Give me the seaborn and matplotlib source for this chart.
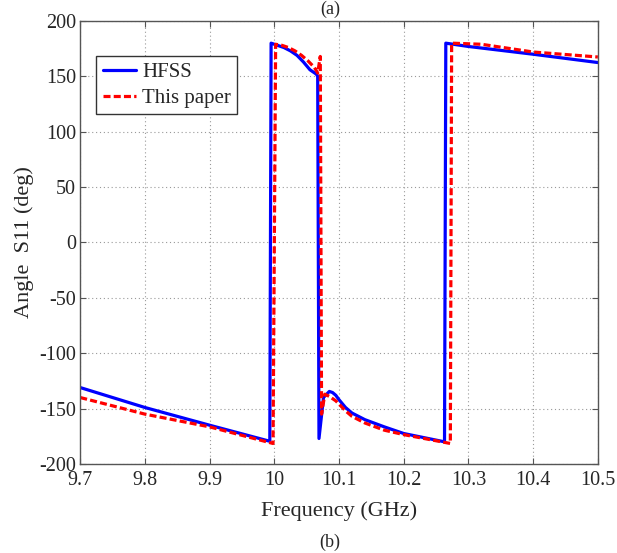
import numpy as np
import pandas as pd
import matplotlib
matplotlib.use("Agg")
import matplotlib.pyplot as plt
import seaborn as sns

# Angle of S11, two curves
HFSS_FREQ = [9.70, 9.80, 9.90, 9.993, 9.995, 10.005, 10.015, 10.025, 10.035,
             10.045, 10.055, 10.065, 10.067, 10.069, 10.076, 10.085, 10.09,
             10.095, 10.10, 10.11, 10.12, 10.14, 10.17, 10.20, 10.263, 10.265,
             10.30, 10.40, 10.50]
HFSS_ANGLE = [-131, -149, -165, -179.5, 180, 178, 176, 173, 169,
              163, 156, 152, 150, -177, -140, -134.5, -135.5,
              -138, -142, -149, -154, -160, -166.5, -172.5, -180, 180,
              177, 170, 162.5]

PAPER_FREQ = [9.70, 9.80, 9.90, 9.998, 10.002, 10.012, 10.022, 10.032, 10.042,
              10.052, 10.062, 10.067, 10.071, 10.073, 10.078, 10.085, 10.095,
              10.11, 10.12, 10.14, 10.17, 10.20, 10.272, 10.274, 10.32, 10.40,
              10.50]
PAPER_ANGLE = [-140, -155, -166.5, -181.5, 179, 178, 176, 173, 169,
               164, 158, 153, 168, -155, -137, -139, -143,
               -152, -157, -163, -169.5, -173.5, -181.5, 180, 179, 172,
               167.5]

SERIES = ["HFSS", "This paper"]
X_TICKS = [9.7, 9.8, 9.9, 10.0, 10.1, 10.2, 10.3, 10.4, 10.5]
X_TICKLABELS = ["9.7", "9.8", "9.9", "10", "10.1", "10.2", "10.3", "10.4", "10.5"]
Y_TICKS = list(range(-200, 201, 50))

df = pd.concat([
    pd.DataFrame({"freq": HFSS_FREQ, "angle": HFSS_ANGLE, "series": SERIES[0]}),
    pd.DataFrame({"freq": PAPER_FREQ, "angle": PAPER_ANGLE, "series": SERIES[1]}),
], ignore_index=True)

sns.set_style("ticks")
plt.rcParams["font.family"] = ["Liberation Serif", "DejaVu Serif"]
plt.rcParams["axes.unicode_minus"] = False
plt.rcParams["xtick.direction"] = "in"
plt.rcParams["ytick.direction"] = "in"

fig = plt.figure(figsize=(6.17, 5.53), dpi=100)
ax = fig.add_axes([0.13, 0.161, 0.839, 0.801])

sns.lineplot(data=df, x="freq", y="angle", hue="series", style="series",
             sort=False, estimator=None, ax=ax, linewidth=2.3,
             palette={"HFSS": "#0000ff", "This paper": "#ff0000"},
             dashes={"HFSS": "", "This paper": (2.2, 1.0)})

ax.set_xlim(9.7, 10.5)
ax.set_ylim(-200, 200)
ax.set_xticks(X_TICKS)
ax.set_xticklabels(X_TICKLABELS)
ax.set_yticks(Y_TICKS)
ax.tick_params(labelsize=14.5, top=True, right=True, length=4, color="#555555")
ax.tick_params(axis="x", pad=5)
ax.tick_params(axis="y", pad=3)
ax.grid(True, linestyle=(0, (1, 2.5)), color="#999999", linewidth=0.8)
for s in ax.spines.values():
    s.set_color("#555555")
    s.set_linewidth(1.0)

ax.set_xlabel("Frequency (GHz)", fontsize=16, labelpad=8)
ax.set_ylabel("Angle  S11 (deg)", fontsize=16, labelpad=4)

leg = ax.legend(loc="upper left", bbox_to_anchor=(0.031, 0.92), borderaxespad=0,
                fontsize=15, frameon=True, fancybox=False, framealpha=1,
                edgecolor="#333333", handlelength=1.6, handletextpad=0.3,
                labelspacing=0.3, borderpad=0.3)
leg.get_frame().set_linewidth(1.0)

fig.text(0.535, 0.984, "(a)", ha="center", va="center", fontsize=13)
fig.text(0.535, 0.020, "(b)", ha="center", va="center", fontsize=13)

fig.savefig("out.png", dpi=100)
